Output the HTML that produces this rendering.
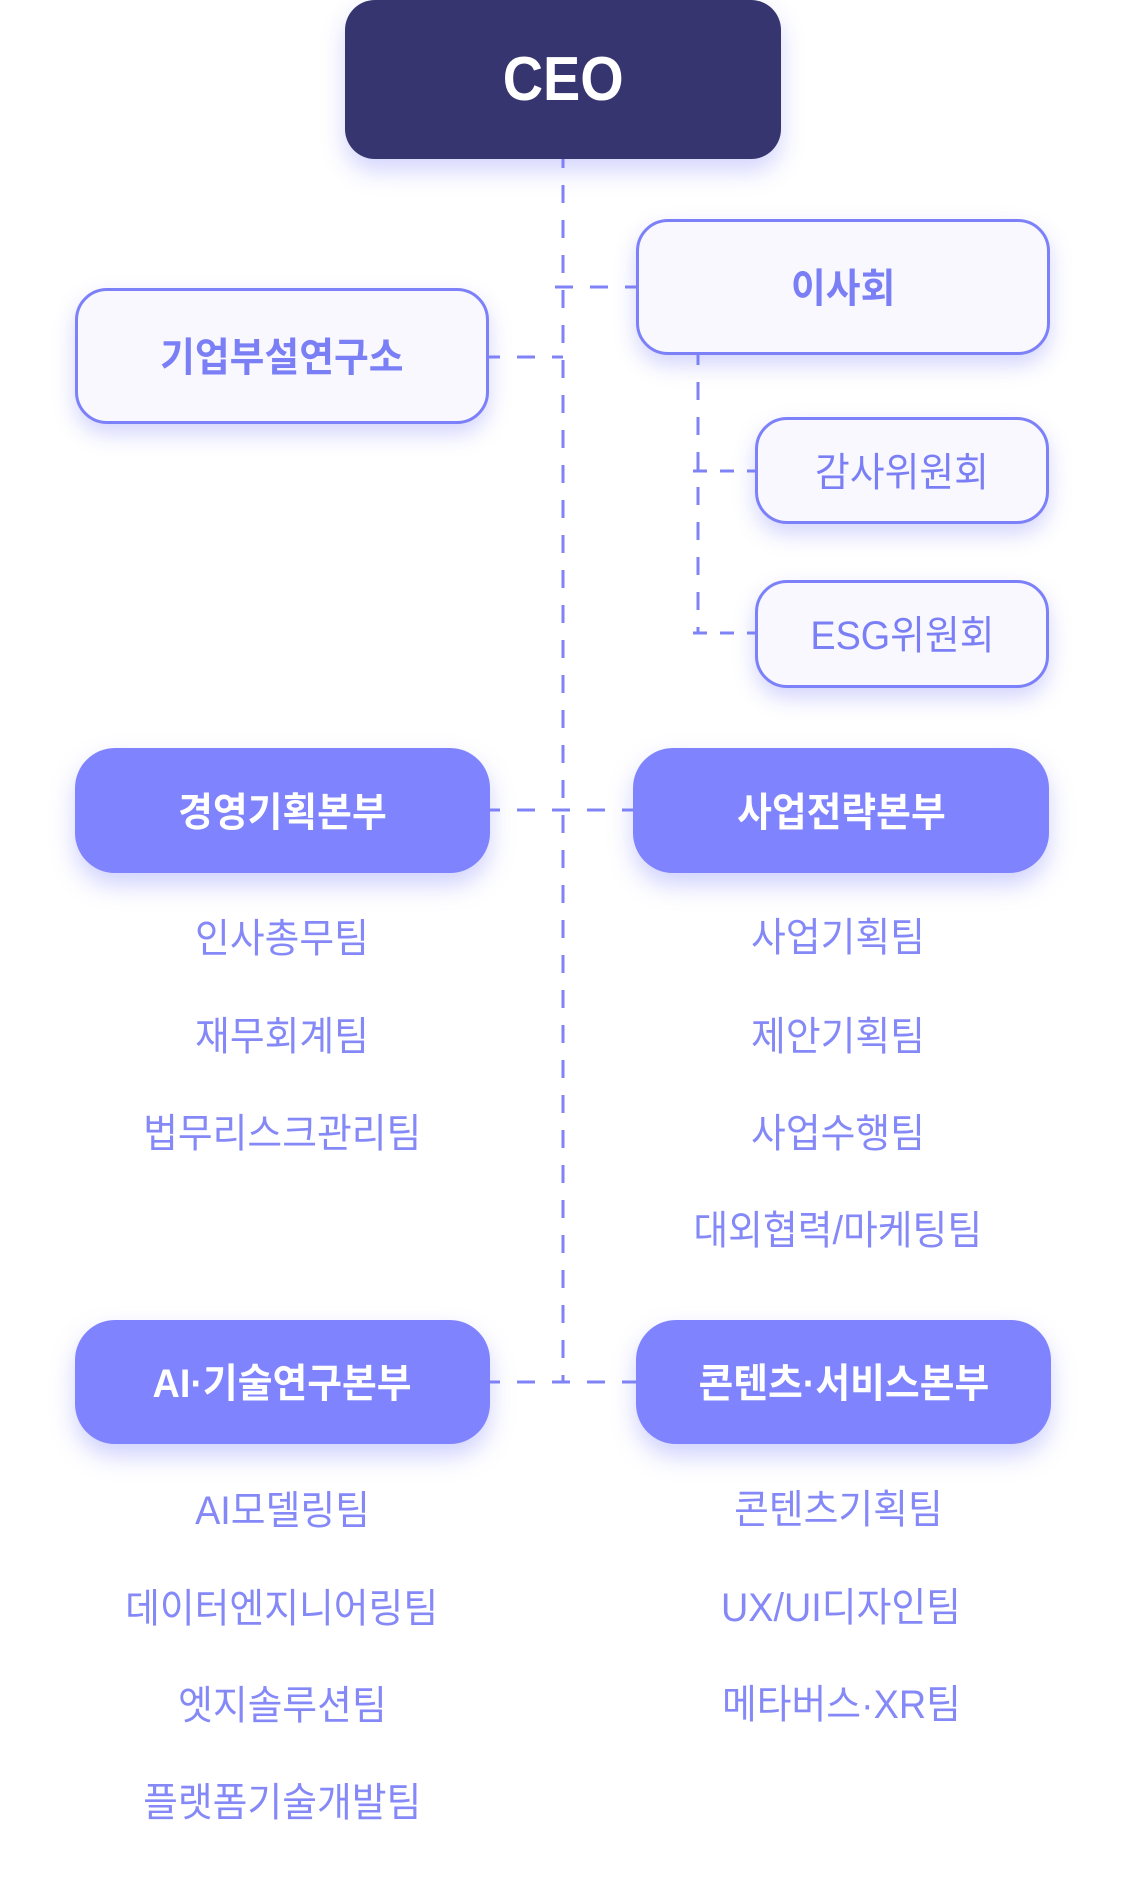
<!DOCTYPE html>
<html>
<head>
<meta charset="utf-8">
<style>
  html, body { margin:0; padding:0; }
  body { width:1125px; height:1884px; background:#ffffff; position:relative; overflow:hidden;
         font-family:"Liberation Sans","Noto Sans CJK KR",sans-serif; }
  svg.lines { position:absolute; left:0; top:0; z-index:1; }
  .box { position:absolute; box-sizing:border-box; display:flex; align-items:center; justify-content:center; z-index:2; }
  .ceo { background:#37356f; border-radius:30px; box-shadow:0 12px 24px rgba(120,125,250,0.32); color:#fff; }
  .light { background:#f9f8ff; border:3px solid #7d81f9; border-radius:32px; box-shadow:0 10px 22px rgba(120,125,245,0.32); color:#7b7ff5; }
  .fill { background:#7f83fd; border-radius:40px; box-shadow:0 12px 24px rgba(120,125,250,0.35); color:#fff; }
  .t { display:inline-block; transform:scaleX(0.945); transform-origin:center; white-space:nowrap; font-size:40px; line-height:46px; position:relative; top:2px; }
  .b { font-weight:700; }
  .team { position:absolute; height:46px; display:flex; align-items:center; justify-content:center; color:#8589f7; z-index:2; }
  .team.l { left:32px; width:500px; }
  .team.r { left:588px; width:500px; }
  .lat { display:inline-block; transform:scaleX(0.93); transform-origin:center; }
</style>
</head>
<body>
<svg class="lines" width="1125" height="1884" viewBox="0 0 1125 1884">
  <g stroke="#7f83f5" stroke-width="3" fill="none" stroke-dasharray="18 17">
    <line x1="563" y1="150" x2="563" y2="1383"/>
    <line x1="555" y1="287" x2="637" y2="287"/>
    <line x1="482" y1="357" x2="563" y2="357"/>
    <line x1="482" y1="810" x2="635" y2="810"/>
    <line x1="482" y1="1382" x2="637" y2="1382"/>
    <line x1="698" y1="347" x2="698" y2="634"/>
  </g>
  <g stroke="#7f83f5" stroke-width="3" fill="none" stroke-dasharray="14 13">
    <line x1="693" y1="471" x2="756" y2="471"/>
    <line x1="693" y1="633" x2="756" y2="633"/>
  </g>
</svg>

<div class="box ceo" style="left:345px;top:0px;width:436px;height:159px;">
  <span class="t b" style="font-size:62px;line-height:70px;transform:scaleX(0.9);top:0;">CEO</span>
</div>

<div class="box light" style="left:75px;top:288px;width:414px;height:136px;">
  <span class="t b">기업부설연구소</span>
</div>
<div class="box light" style="left:636px;top:219px;width:414px;height:136px;">
  <span class="t b">이사회</span>
</div>
<div class="box light" style="left:755px;top:417px;width:294px;height:107px;">
  <span class="t">감사위원회</span>
</div>
<div class="box light" style="left:755px;top:580px;width:294px;height:108px;">
  <span class="t">ESG위원회</span>
</div>

<div class="box fill" style="left:75px;top:748px;width:415px;height:125px;">
  <span class="t b">경영기획본부</span>
</div>
<div class="box fill" style="left:633px;top:748px;width:416px;height:125px;">
  <span class="t b">사업전략본부</span>
</div>
<div class="box fill" style="left:75px;top:1320px;width:415px;height:124px;">
  <span class="t b">AI·기술연구본부</span>
</div>
<div class="box fill" style="left:636px;top:1320px;width:415px;height:124px;">
  <span class="t b">콘텐츠·서비스본부</span>
</div>

<div class="team l" style="top:914px;"><span class="t">인사총무팀</span></div>
<div class="team l" style="top:1012px;"><span class="t">재무회계팀</span></div>
<div class="team l" style="top:1109px;"><span class="t">법무리스크관리팀</span></div>

<div class="team r" style="top:913px;"><span class="t">사업기획팀</span></div>
<div class="team r" style="top:1012px;"><span class="t">제안기획팀</span></div>
<div class="team r" style="top:1109px;"><span class="t">사업수행팀</span></div>
<div class="team r" style="top:1206px;"><span class="t">대외협력/마케팅팀</span></div>

<div class="team l" style="top:1486px;"><span class="t">AI모델링팀</span></div>
<div class="team l" style="top:1584px;"><span class="t">데이터엔지니어링팀</span></div>
<div class="team l" style="top:1681px;"><span class="t">엣지솔루션팀</span></div>
<div class="team l" style="top:1778px;"><span class="t">플랫폼기술개발팀</span></div>

<div class="team r" style="top:1485px;"><span class="t">콘텐츠기획팀</span></div>
<div class="team r" style="top:1583px;"><span class="t" style="left:3px;">UX/UI디자인팀</span></div>
<div class="team r" style="top:1680px;"><span class="t" style="left:3px;">메타버스·XR팀</span></div>
</body>
</html>
